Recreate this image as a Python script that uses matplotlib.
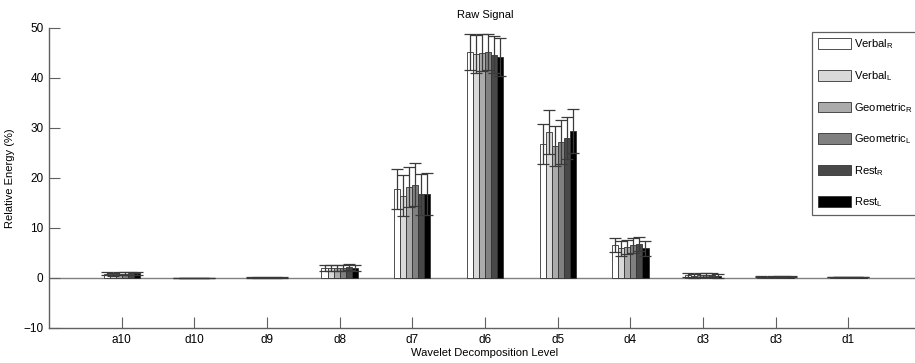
import matplotlib
matplotlib.use("Agg")
import matplotlib.pyplot as plt
import numpy as np

plt.rcParams['font.family'] = ['Liberation Sans', 'DejaVu Sans']
plt.rcParams['mathtext.fontset'] = 'custom'
plt.rcParams['mathtext.rm'] = 'Liberation Sans'
plt.rcParams['mathtext.it'] = 'Liberation Sans'

categories = ['a10', 'd10', 'd9', 'd8', 'd7', 'd6', 'd5', 'd4', 'd3', 'd3', 'd1']
series_names = [r'Verbal$_\mathrm{R}$', r'Verbal$_\mathrm{L}$', r'Geometric$_\mathrm{R}$',
                r'Geometric$_\mathrm{L}$', r'Rest$_\mathrm{R}$', r'Rest$_\mathrm{L}$']

verbal_r = [0.9, 0.05, 0.1, 2.1, 17.8, 45.2, 26.8, 6.6, 0.6, 0.30, 0.20]
verbal_l = [0.8, 0.05, 0.1, 2.0, 16.5, 44.8, 29.2, 6.0, 0.5, 0.25, 0.20]
geo_r    = [0.9, 0.05, 0.1, 2.1, 18.3, 45.1, 26.4, 6.3, 0.6, 0.30, 0.20]
geo_l    = [0.9, 0.05, 0.1, 2.1, 18.7, 45.2, 27.2, 6.6, 0.6, 0.30, 0.20]
rest_r   = [1.0, 0.05, 0.1, 2.2, 16.8, 44.7, 28.0, 6.9, 0.7, 0.30, 0.20]
rest_l   = [1.0, 0.05, 0.1, 2.1, 16.8, 44.2, 29.4, 6.0, 0.5, 0.30, 0.20]

verbal_r_err = [0.3, 0.02, 0.05, 0.6, 4.0, 3.6, 4.0, 1.4, 0.4, 0.05, 0.05]
verbal_l_err = [0.3, 0.02, 0.05, 0.6, 4.1, 3.8, 4.4, 1.5, 0.4, 0.05, 0.05]
geo_r_err    = [0.3, 0.02, 0.05, 0.6, 4.0, 3.7, 4.0, 1.4, 0.4, 0.05, 0.05]
geo_l_err    = [0.3, 0.02, 0.05, 0.6, 4.3, 3.6, 4.4, 1.5, 0.4, 0.05, 0.05]
rest_r_err   = [0.3, 0.02, 0.05, 0.6, 4.1, 3.8, 4.2, 1.4, 0.4, 0.05, 0.05]
rest_l_err   = [0.3, 0.02, 0.05, 0.6, 4.2, 3.9, 4.4, 1.5, 0.4, 0.05, 0.05]

values = [verbal_r, verbal_l, geo_r, geo_l, rest_r, rest_l]
errors = [verbal_r_err, verbal_l_err, geo_r_err, geo_l_err, rest_r_err, rest_l_err]
colors = ['#ffffff', '#d9d9d9', '#ababab', '#808080', '#484848', '#000000']

W, H = 915, 363
fig = plt.figure(figsize=(W / 100, H / 100), dpi=100)
left_px, right_px, top_px, bot_px = 49, 921, 28, 328
ax = fig.add_axes([left_px / W, 1 - bot_px / H, (right_px - left_px) / W, (bot_px - top_px) / H])

x = np.arange(1, len(categories) + 1)
n = len(values)
bw = 0.5 / n
handles = []
for i, (v, e, c, name) in enumerate(zip(values, errors, colors, series_names)):
    pos = x + (i - (n - 1) / 2) * bw
    b = ax.bar(pos, v, width=bw, color=c, edgecolor='#333333', linewidth=0.6, label=name, zorder=2)
    ax.errorbar(pos, v, yerr=e, fmt='none', ecolor='#3a3a3a', elinewidth=0.9,
                capsize=4.5, capthick=0.9, zorder=3)
    handles.append(b)

ax.axhline(0, color='#808080', linewidth=1.0, zorder=1)
ax.set_xlim(0, 12)
ax.set_ylim(-10, 50)
ax.set_yticks(np.arange(-10, 51, 10))
ax.set_xticks(x)
ax.set_xticklabels(categories)
ax.tick_params(direction='in', length=8, width=0.8, color='#606060', labelsize=8.5, pad=4)
for s in ['top', 'right']:
    ax.spines[s].set_visible(False)
for s in ['left', 'bottom']:
    ax.spines[s].set_color('#606060')
    ax.spines[s].set_linewidth(1.0)

ax.set_title('Raw Signal', fontsize=8, pad=7)
ax.set_xlabel('Wavelet Decomposition Level', fontsize=8, labelpad=2)
ax.set_ylabel('Relative Energy (%)', fontsize=8, labelpad=6)

leg = fig.legend(handles=handles, loc='upper left',
                 bbox_to_anchor=(812 / W, 1 - 32 / H), fontsize=8,
                 handlelength=3.0, handleheight=1.1, labelspacing=1.6,
                 handletextpad=0.3, borderpad=0.5, fancybox=False,
                 framealpha=1, edgecolor='#606060', borderaxespad=0)
leg.get_frame().set_linewidth(0.9)

fig.savefig('out.png', dpi=100)
